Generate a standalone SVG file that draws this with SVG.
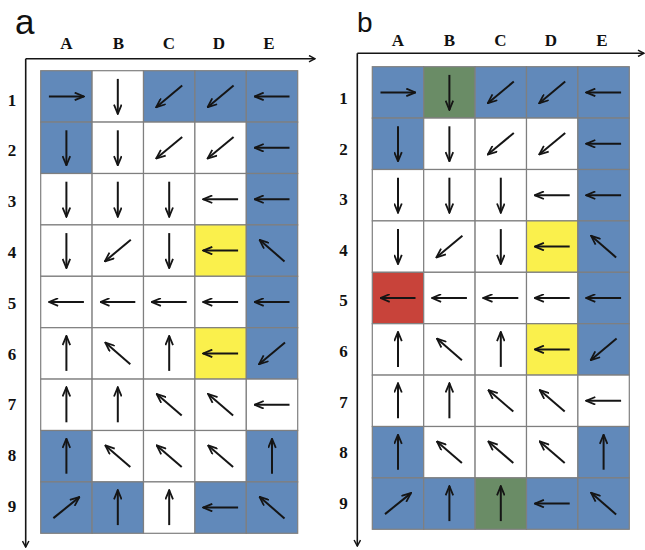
<svg xmlns="http://www.w3.org/2000/svg" xmlns:xlink="http://www.w3.org/1999/xlink" width="645" height="550" viewBox="0 0 645 550">
  <style>
    .cell{stroke:#7f7f7f;stroke-width:1.2}
    .bl{fill:#6189BA}
    .wh{fill:#ffffff}
    .ye{fill:#FAF04C}
    .rd{fill:#C8433A}
    .gr{fill:#6A8C66}
    .arw{fill:none;stroke:#151515;stroke-width:2;marker-end:url(#ah)}
    .ax{fill:none;stroke:#151515;stroke-width:1.6;marker-end:url(#axh)}
    .hd{font-family:"Liberation Serif","Times New Roman",serif;font-weight:bold;font-size:17px;fill:#111;text-anchor:middle}
    .pn{font-family:"Liberation Sans",Arial,sans-serif;fill:#111}
  </style>
  <defs>
    <marker id="ah" viewBox="0 0 11 9" refX="10.2" refY="4.5" markerWidth="11" markerHeight="9" markerUnits="userSpaceOnUse" orient="auto">
      <path d="M1,0.7 L10.2,4.5 L1,8.3" fill="none" stroke="#151515" stroke-width="1.8"/>
    </marker>
    <marker id="axh" viewBox="0 0 8 8" refX="7" refY="4" markerWidth="8" markerHeight="8" markerUnits="userSpaceOnUse" orient="auto">
      <path d="M1,0.8 L7,4 L1,7.2" fill="none" stroke="#151515" stroke-width="1.5"/>
    </marker>
    <!-- arrow shapes centred on the origin -->
    <path id="R" class="arw" d="M-17.5,0 H17.5"/>
    <path id="L" class="arw" d="M17.5,0 H-17.5"/>
    <path id="D" class="arw" d="M0,-17.5 V17.5"/>
    <path id="U" class="arw" d="M0,17.5 V-17.5"/>
    <path id="DL" class="arw" d="M13,-10.8 L-13,10.8"/>
    <path id="UL" class="arw" d="M12.5,10.8 L-12.5,-10.8"/>
    <path id="UR" class="arw" d="M-13,10.5 L13,-10.5"/>
  </defs>
  <rect width="645" height="550" fill="#ffffff"/>

  <!-- panel labels -->
  <text class="pn" x="15" y="33.5" font-size="35">a</text>
  <text class="pn" x="357" y="32.3" font-size="28">b</text>

  <!-- axes -->
  <g id="connectors">
    <line class="ax" x1="25.7" y1="58.7" x2="315" y2="58.7"/>
    <line class="ax" x1="25.7" y1="58.7" x2="25.7" y2="547"/>
    <line class="ax" x1="357.3" y1="53.3" x2="644" y2="53.3"/>
    <line class="ax" x1="357.3" y1="53.3" x2="357.3" y2="546"/>
  </g>

  <!-- column and row headings, panel a -->
  <g id="heads-a">
    <text class="hd" x="66.5" y="49.3">A</text>
    <text class="hd" x="118.5" y="49.3">B</text>
    <text class="hd" x="169" y="49.3">C</text>
    <text class="hd" x="219" y="49.3">D</text>
    <text class="hd" x="269" y="49.3">E</text>
    <text class="hd" x="12" y="105.5">1</text>
    <text class="hd" x="12" y="156.3">2</text>
    <text class="hd" x="12" y="207.1">3</text>
    <text class="hd" x="12" y="257.9">4</text>
    <text class="hd" x="12" y="308.7">5</text>
    <text class="hd" x="12" y="359.5">6</text>
    <text class="hd" x="12" y="410.3">7</text>
    <text class="hd" x="12" y="461.1">8</text>
    <text class="hd" x="12" y="511.9">9</text>
  </g>

  <!-- column and row headings, panel b -->
  <g id="heads-b">
    <text class="hd" x="398" y="45.7">A</text>
    <text class="hd" x="449.5" y="45.7">B</text>
    <text class="hd" x="500.5" y="45.7">C</text>
    <text class="hd" x="551" y="45.7">D</text>
    <text class="hd" x="602" y="45.7">E</text>
    <text class="hd" x="343.5" y="104">1</text>
    <text class="hd" x="343.5" y="154.6">2</text>
    <text class="hd" x="343.5" y="205.2">3</text>
    <text class="hd" x="343.5" y="255.8">4</text>
    <text class="hd" x="343.5" y="306.4">5</text>
    <text class="hd" x="343.5" y="357">6</text>
    <text class="hd" x="343.5" y="407.6">7</text>
    <text class="hd" x="343.5" y="458.2">8</text>
    <text class="hd" x="343.5" y="508.8">9</text>
  </g>

  <!-- panel a grid -->
  <g id="grid-a" transform="translate(40.7,70.7)">
    <g id="a-A1"><rect class="cell bl" x="0" y="0" width="51.4" height="51.4"/><use href="#R" x="25.7" y="25.7"/></g>
    <g id="a-B1"><rect class="cell wh" x="51.4" y="0" width="51.4" height="51.4"/><use href="#D" x="77.1" y="25.7"/></g>
    <g id="a-C1"><rect class="cell bl" x="102.8" y="0" width="51.4" height="51.4"/><use href="#DL" x="128.5" y="25.7"/></g>
    <g id="a-D1"><rect class="cell bl" x="154.2" y="0" width="51.4" height="51.4"/><use href="#DL" x="179.9" y="25.7"/></g>
    <g id="a-E1"><rect class="cell bl" x="205.6" y="0" width="51.4" height="51.4"/><use href="#L" x="231.3" y="25.7"/></g>

    <g id="a-A2"><rect class="cell bl" x="0" y="51.4" width="51.4" height="51.4"/><use href="#D" x="25.7" y="77.1"/></g>
    <g id="a-B2"><rect class="cell wh" x="51.4" y="51.4" width="51.4" height="51.4"/><use href="#D" x="77.1" y="77.1"/></g>
    <g id="a-C2"><rect class="cell wh" x="102.8" y="51.4" width="51.4" height="51.4"/><use href="#DL" x="128.5" y="77.1"/></g>
    <g id="a-D2"><rect class="cell wh" x="154.2" y="51.4" width="51.4" height="51.4"/><use href="#DL" x="179.9" y="77.1"/></g>
    <g id="a-E2"><rect class="cell bl" x="205.6" y="51.4" width="51.4" height="51.4"/><use href="#L" x="231.3" y="77.1"/></g>

    <g id="a-A3"><rect class="cell wh" x="0" y="102.8" width="51.4" height="51.4"/><use href="#D" x="25.7" y="128.5"/></g>
    <g id="a-B3"><rect class="cell wh" x="51.4" y="102.8" width="51.4" height="51.4"/><use href="#D" x="77.1" y="128.5"/></g>
    <g id="a-C3"><rect class="cell wh" x="102.8" y="102.8" width="51.4" height="51.4"/><use href="#D" x="128.5" y="128.5"/></g>
    <g id="a-D3"><rect class="cell wh" x="154.2" y="102.8" width="51.4" height="51.4"/><use href="#L" x="179.9" y="128.5"/></g>
    <g id="a-E3"><rect class="cell bl" x="205.6" y="102.8" width="51.4" height="51.4"/><use href="#L" x="231.3" y="128.5"/></g>

    <g id="a-A4"><rect class="cell wh" x="0" y="154.2" width="51.4" height="51.4"/><use href="#D" x="25.7" y="179.9"/></g>
    <g id="a-B4"><rect class="cell wh" x="51.4" y="154.2" width="51.4" height="51.4"/><use href="#DL" x="77.1" y="179.9"/></g>
    <g id="a-C4"><rect class="cell wh" x="102.8" y="154.2" width="51.4" height="51.4"/><use href="#D" x="128.5" y="179.9"/></g>
    <g id="a-D4"><rect class="cell ye" x="154.2" y="154.2" width="51.4" height="51.4"/><use href="#L" x="179.9" y="179.9"/></g>
    <g id="a-E4"><rect class="cell bl" x="205.6" y="154.2" width="51.4" height="51.4"/><use href="#UL" x="231.3" y="179.9"/></g>

    <g id="a-A5"><rect class="cell wh" x="0" y="205.6" width="51.4" height="51.4"/><use href="#L" x="25.7" y="231.3"/></g>
    <g id="a-B5"><rect class="cell wh" x="51.4" y="205.6" width="51.4" height="51.4"/><use href="#L" x="77.1" y="231.3"/></g>
    <g id="a-C5"><rect class="cell wh" x="102.8" y="205.6" width="51.4" height="51.4"/><use href="#L" x="128.5" y="231.3"/></g>
    <g id="a-D5"><rect class="cell wh" x="154.2" y="205.6" width="51.4" height="51.4"/><use href="#L" x="179.9" y="231.3"/></g>
    <g id="a-E5"><rect class="cell bl" x="205.6" y="205.6" width="51.4" height="51.4"/><use href="#L" x="231.3" y="231.3"/></g>

    <g id="a-A6"><rect class="cell wh" x="0" y="257" width="51.4" height="51.4"/><use href="#U" x="25.7" y="282.7"/></g>
    <g id="a-B6"><rect class="cell wh" x="51.4" y="257" width="51.4" height="51.4"/><use href="#UL" x="77.1" y="282.7"/></g>
    <g id="a-C6"><rect class="cell wh" x="102.8" y="257" width="51.4" height="51.4"/><use href="#U" x="128.5" y="282.7"/></g>
    <g id="a-D6"><rect class="cell ye" x="154.2" y="257" width="51.4" height="51.4"/><use href="#L" x="179.9" y="282.7"/></g>
    <g id="a-E6"><rect class="cell bl" x="205.6" y="257" width="51.4" height="51.4"/><use href="#DL" x="231.3" y="282.7"/></g>

    <g id="a-A7"><rect class="cell wh" x="0" y="308.4" width="51.4" height="51.4"/><use href="#U" x="25.7" y="334.1"/></g>
    <g id="a-B7"><rect class="cell wh" x="51.4" y="308.4" width="51.4" height="51.4"/><use href="#U" x="77.1" y="334.1"/></g>
    <g id="a-C7"><rect class="cell wh" x="102.8" y="308.4" width="51.4" height="51.4"/><use href="#UL" x="128.5" y="334.1"/></g>
    <g id="a-D7"><rect class="cell wh" x="154.2" y="308.4" width="51.4" height="51.4"/><use href="#UL" x="179.9" y="334.1"/></g>
    <g id="a-E7"><rect class="cell wh" x="205.6" y="308.4" width="51.4" height="51.4"/><use href="#L" x="231.3" y="334.1"/></g>

    <g id="a-A8"><rect class="cell bl" x="0" y="359.8" width="51.4" height="51.4"/><use href="#U" x="25.7" y="385.5"/></g>
    <g id="a-B8"><rect class="cell wh" x="51.4" y="359.8" width="51.4" height="51.4"/><use href="#UL" x="77.1" y="385.5"/></g>
    <g id="a-C8"><rect class="cell wh" x="102.8" y="359.8" width="51.4" height="51.4"/><use href="#UL" x="128.5" y="385.5"/></g>
    <g id="a-D8"><rect class="cell wh" x="154.2" y="359.8" width="51.4" height="51.4"/><use href="#UL" x="179.9" y="385.5"/></g>
    <g id="a-E8"><rect class="cell bl" x="205.6" y="359.8" width="51.4" height="51.4"/><use href="#U" x="231.3" y="385.5"/></g>

    <g id="a-A9"><rect class="cell bl" x="0" y="411.2" width="51.4" height="51.4"/><use href="#UR" x="25.7" y="436.9"/></g>
    <g id="a-B9"><rect class="cell bl" x="51.4" y="411.2" width="51.4" height="51.4"/><use href="#U" x="77.1" y="436.9"/></g>
    <g id="a-C9"><rect class="cell wh" x="102.8" y="411.2" width="51.4" height="51.4"/><use href="#U" x="128.5" y="436.9"/></g>
    <g id="a-D9"><rect class="cell bl" x="154.2" y="411.2" width="51.4" height="51.4"/><use href="#L" x="179.9" y="436.9"/></g>
    <g id="a-E9"><rect class="cell bl" x="205.6" y="411.2" width="51.4" height="51.4"/><use href="#UL" x="231.3" y="436.9"/></g>
  </g>

  <!-- panel b grid -->
  <g id="grid-b" transform="translate(372.3,66.7)">
    <g id="b-A1"><rect class="cell bl" x="0" y="0" width="51.4" height="51.4"/><use href="#R" x="25.7" y="25.7"/></g>
    <g id="b-B1"><rect class="cell gr" x="51.4" y="0" width="51.4" height="51.4"/><use href="#D" x="77.1" y="25.7"/></g>
    <g id="b-C1"><rect class="cell bl" x="102.8" y="0" width="51.4" height="51.4"/><use href="#DL" x="128.5" y="25.7"/></g>
    <g id="b-D1"><rect class="cell bl" x="154.2" y="0" width="51.4" height="51.4"/><use href="#DL" x="179.9" y="25.7"/></g>
    <g id="b-E1"><rect class="cell bl" x="205.6" y="0" width="51.4" height="51.4"/><use href="#L" x="231.3" y="25.7"/></g>

    <g id="b-A2"><rect class="cell bl" x="0" y="51.4" width="51.4" height="51.4"/><use href="#D" x="25.7" y="77.1"/></g>
    <g id="b-B2"><rect class="cell wh" x="51.4" y="51.4" width="51.4" height="51.4"/><use href="#D" x="77.1" y="77.1"/></g>
    <g id="b-C2"><rect class="cell wh" x="102.8" y="51.4" width="51.4" height="51.4"/><use href="#DL" x="128.5" y="77.1"/></g>
    <g id="b-D2"><rect class="cell wh" x="154.2" y="51.4" width="51.4" height="51.4"/><use href="#DL" x="179.9" y="77.1"/></g>
    <g id="b-E2"><rect class="cell bl" x="205.6" y="51.4" width="51.4" height="51.4"/><use href="#L" x="231.3" y="77.1"/></g>

    <g id="b-A3"><rect class="cell wh" x="0" y="102.8" width="51.4" height="51.4"/><use href="#D" x="25.7" y="128.5"/></g>
    <g id="b-B3"><rect class="cell wh" x="51.4" y="102.8" width="51.4" height="51.4"/><use href="#D" x="77.1" y="128.5"/></g>
    <g id="b-C3"><rect class="cell wh" x="102.8" y="102.8" width="51.4" height="51.4"/><use href="#D" x="128.5" y="128.5"/></g>
    <g id="b-D3"><rect class="cell wh" x="154.2" y="102.8" width="51.4" height="51.4"/><use href="#L" x="179.9" y="128.5"/></g>
    <g id="b-E3"><rect class="cell bl" x="205.6" y="102.8" width="51.4" height="51.4"/><use href="#L" x="231.3" y="128.5"/></g>

    <g id="b-A4"><rect class="cell wh" x="0" y="154.2" width="51.4" height="51.4"/><use href="#D" x="25.7" y="179.9"/></g>
    <g id="b-B4"><rect class="cell wh" x="51.4" y="154.2" width="51.4" height="51.4"/><use href="#DL" x="77.1" y="179.9"/></g>
    <g id="b-C4"><rect class="cell wh" x="102.8" y="154.2" width="51.4" height="51.4"/><use href="#D" x="128.5" y="179.9"/></g>
    <g id="b-D4"><rect class="cell ye" x="154.2" y="154.2" width="51.4" height="51.4"/><use href="#L" x="179.9" y="179.9"/></g>
    <g id="b-E4"><rect class="cell bl" x="205.6" y="154.2" width="51.4" height="51.4"/><use href="#UL" x="231.3" y="179.9"/></g>

    <g id="b-A5"><rect class="cell rd" x="0" y="205.6" width="51.4" height="51.4"/><use href="#L" x="25.7" y="231.3"/></g>
    <g id="b-B5"><rect class="cell wh" x="51.4" y="205.6" width="51.4" height="51.4"/><use href="#L" x="77.1" y="231.3"/></g>
    <g id="b-C5"><rect class="cell wh" x="102.8" y="205.6" width="51.4" height="51.4"/><use href="#L" x="128.5" y="231.3"/></g>
    <g id="b-D5"><rect class="cell wh" x="154.2" y="205.6" width="51.4" height="51.4"/><use href="#L" x="179.9" y="231.3"/></g>
    <g id="b-E5"><rect class="cell bl" x="205.6" y="205.6" width="51.4" height="51.4"/><use href="#L" x="231.3" y="231.3"/></g>

    <g id="b-A6"><rect class="cell wh" x="0" y="257" width="51.4" height="51.4"/><use href="#U" x="25.7" y="282.7"/></g>
    <g id="b-B6"><rect class="cell wh" x="51.4" y="257" width="51.4" height="51.4"/><use href="#UL" x="77.1" y="282.7"/></g>
    <g id="b-C6"><rect class="cell wh" x="102.8" y="257" width="51.4" height="51.4"/><use href="#U" x="128.5" y="282.7"/></g>
    <g id="b-D6"><rect class="cell ye" x="154.2" y="257" width="51.4" height="51.4"/><use href="#L" x="179.9" y="282.7"/></g>
    <g id="b-E6"><rect class="cell bl" x="205.6" y="257" width="51.4" height="51.4"/><use href="#DL" x="231.3" y="282.7"/></g>

    <g id="b-A7"><rect class="cell wh" x="0" y="308.4" width="51.4" height="51.4"/><use href="#U" x="25.7" y="334.1"/></g>
    <g id="b-B7"><rect class="cell wh" x="51.4" y="308.4" width="51.4" height="51.4"/><use href="#U" x="77.1" y="334.1"/></g>
    <g id="b-C7"><rect class="cell wh" x="102.8" y="308.4" width="51.4" height="51.4"/><use href="#UL" x="128.5" y="334.1"/></g>
    <g id="b-D7"><rect class="cell wh" x="154.2" y="308.4" width="51.4" height="51.4"/><use href="#UL" x="179.9" y="334.1"/></g>
    <g id="b-E7"><rect class="cell wh" x="205.6" y="308.4" width="51.4" height="51.4"/><use href="#L" x="231.3" y="334.1"/></g>

    <g id="b-A8"><rect class="cell bl" x="0" y="359.8" width="51.4" height="51.4"/><use href="#U" x="25.7" y="385.5"/></g>
    <g id="b-B8"><rect class="cell wh" x="51.4" y="359.8" width="51.4" height="51.4"/><use href="#UL" x="77.1" y="385.5"/></g>
    <g id="b-C8"><rect class="cell wh" x="102.8" y="359.8" width="51.4" height="51.4"/><use href="#UL" x="128.5" y="385.5"/></g>
    <g id="b-D8"><rect class="cell wh" x="154.2" y="359.8" width="51.4" height="51.4"/><use href="#UL" x="179.9" y="385.5"/></g>
    <g id="b-E8"><rect class="cell bl" x="205.6" y="359.8" width="51.4" height="51.4"/><use href="#U" x="231.3" y="385.5"/></g>

    <g id="b-A9"><rect class="cell bl" x="0" y="411.2" width="51.4" height="51.4"/><use href="#UR" x="25.7" y="436.9"/></g>
    <g id="b-B9"><rect class="cell bl" x="51.4" y="411.2" width="51.4" height="51.4"/><use href="#U" x="77.1" y="436.9"/></g>
    <g id="b-C9"><rect class="cell gr" x="102.8" y="411.2" width="51.4" height="51.4"/><use href="#U" x="128.5" y="436.9"/></g>
    <g id="b-D9"><rect class="cell bl" x="154.2" y="411.2" width="51.4" height="51.4"/><use href="#L" x="179.9" y="436.9"/></g>
    <g id="b-E9"><rect class="cell bl" x="205.6" y="411.2" width="51.4" height="51.4"/><use href="#UL" x="231.3" y="436.9"/></g>
  </g>
</svg>
